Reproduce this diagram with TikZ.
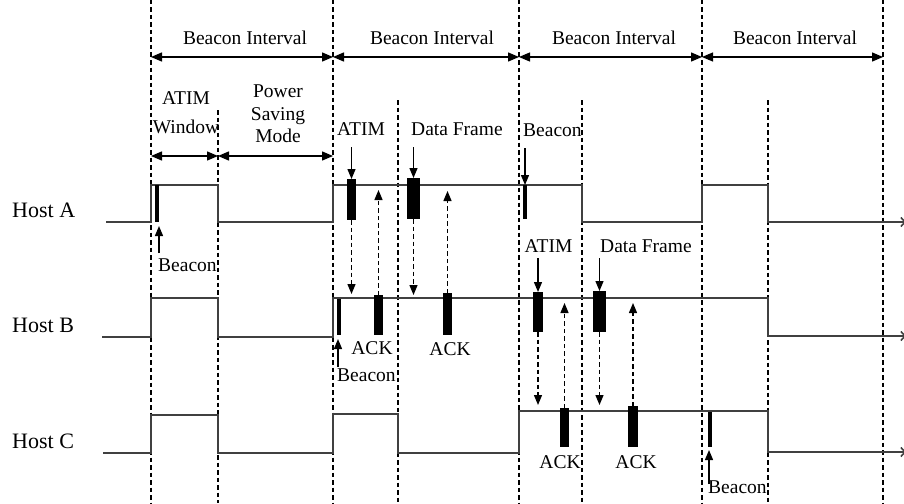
\documentclass[tikz,border=0pt]{standalone}
\usepackage{fontspec}
\setmainfont{Liberation Serif}
\usetikzlibrary{arrows.meta,calc}
\begin{document}
\begin{tikzpicture}[x=1pt,y=-1pt,
  lbl/.style={font=\fontsize{19.5}{23}\selectfont, inner sep=0pt},
  hostlbl/.style={font=\fontsize{22}{24}\selectfont, inner sep=0pt, anchor=base west},
  wave/.style={line width=1.6pt, draw=black!75, line join=miter},
  vgrid/.style={line width=1.1pt, dash pattern=on 4.5pt off 3pt},
  bar/.style={fill=black, inner sep=0pt, outer sep=0pt, draw=none},
  arr/.style={line width=1.3pt, -{Triangle[length=10pt,width=8pt]}},
  darr/.style={arr, dash pattern=on 4.5pt off 3pt},
  dim/.style={line width=1.3pt, {Triangle[length=11pt,width=9pt]}-{Triangle[length=11pt,width=9pt]}},
  endarr/.style={-{Straight Barb[length=4pt,width=9pt]}}
]
\useasboundingbox (0,0) rectangle (904,503);

% time marks (dashed verticals)
\foreach \x/\n in {151/t0,333/t1,519/t2,702/t3,883/t4}{
  \coordinate (\n) at (\x,0);
  \draw[vgrid] (\x,0) -- (\x,503);
}
\foreach \x/\n/\y in {218/w0/110,398/w1/100,582/w2/100,768/w3/100}{
  \coordinate (\n) at (\x,\y);
  \draw[vgrid] (\x,\y) -- (\x,503);
}

% beacon interval dimension arrows
\draw[dim] (151,57) -- (333,57);
\draw[dim] (333,57) -- (519,57);
\draw[dim] (519,57) -- (702,57);
\draw[dim] (702,57) -- (883,57);
\node[lbl,anchor=base] (bi1) at (245,45) {Beacon Interval};
\node[lbl,anchor=base] (bi2) at (432,45) {Beacon Interval};
\node[lbl,anchor=base] (bi3) at (614,45) {Beacon Interval};
\node[lbl,anchor=base] (bi4) at (795,45) {Beacon Interval};

% ATIM window / power saving
\draw[dim] (151,156) -- (218,156);
\draw[dim] (218,156) -- (333,156);
\node[lbl,anchor=base] (aw1) at (186,104) {ATIM};
\node[lbl,anchor=base] (aw2) at (186,133) {Window};
\node[lbl,anchor=base] (ps1) at (278,97) {Power};
\node[lbl,anchor=base] (ps2) at (278,120) {Saving};
\node[lbl,anchor=base] (ps3) at (278,142) {Mode};

% host labels
\node[hostlbl] (hA) at (12,217) {Host A};
\node[hostlbl] (hB) at (12,332) {Host B};
\node[hostlbl] (hC) at (12,448) {Host C};

% waveforms
\draw[wave,endarr] (106,222) -- (151,222) -- (151,185) -- (218,185) -- (218,222) -- (333,222) -- (333,185) -- (582,185) -- (582,222) -- (702,222) -- (702,185) -- (768,185) -- (768,222) -- (906,222);
\draw[wave,endarr] (102,337) -- (151,337) -- (151,298) -- (218,298) -- (218,337) -- (333,337) -- (333,298) -- (768,298) -- (768,336) -- (906,336);
\draw[wave,endarr] (103,453) -- (151,453) -- (151,415) -- (218,415) -- (218,453) -- (333,453) -- (333,414) -- (398,414) -- (398,453) -- (519,453) -- (519,411) -- (768,411) -- (768,452) -- (906,452);

% frames Host A
\node[bar,minimum width=4pt,minimum height=37pt] (bA1) at (157,203.5) {};
\node[bar,minimum width=9pt,minimum height=41pt] (bA2) at (351.5,199.5) {};
\node[bar,minimum width=13pt,minimum height=41pt] (bA3) at (413.5,198.5) {};
\node[bar,minimum width=4pt,minimum height=34pt] (bA4) at (525,202) {};
% frames Host B
\node[bar,minimum width=4pt,minimum height=36pt] (bB1) at (339,317) {};
\node[bar,minimum width=9pt,minimum height=40pt] (bB2) at (378.5,315) {};
\node[bar,minimum width=9pt,minimum height=42pt] (bB3) at (447.5,314) {};
\node[bar,minimum width=10pt,minimum height=40pt] (bB4) at (538,312) {};
\node[bar,minimum width=13pt,minimum height=41pt] (bB5) at (599.5,311.5) {};
% frames Host C
\node[bar,minimum width=9pt,minimum height=39pt] (bC1) at (564.5,427.5) {};
\node[bar,minimum width=10pt,minimum height=41pt] (bC2) at (633,426.5) {};
\node[bar,minimum width=4pt,minimum height=35pt] (bC3) at (710,429.5) {};

% labels with arrows
\node[lbl,anchor=base west] (lbA) at (158,271) {Beacon};
\draw[arr] (159,253) -- (159,226);
\node[lbl,anchor=base] (latim1) at (361,135) {ATIM};
\draw[arr] (bA2.north |- 0,147) -- (bA2.north);
\node[lbl,anchor=base west] (ldf1) at (411,135) {Data Frame};
\draw[arr] (bA3.north |- 0,147) -- (bA3.north);
\node[lbl,anchor=base west] (lbA2) at (523,136) {Beacon};
\draw[arr] (bA4.north |- 0,148) -- (bA4.north);

\node[lbl,anchor=base] (latim2) at (548.5,252) {ATIM};
\draw[arr] (bB4.north |- 0,258) -- (bB4.north);
\node[lbl,anchor=base west] (ldf2) at (600,252) {Data Frame};
\draw[arr] (bB5.north |- 0,258) -- (bB5.north);

\node[lbl,anchor=base] (ack1) at (372,354) {ACK};
\node[lbl,anchor=base] (ack2) at (450,355) {ACK};
\node[lbl,anchor=base west] (lbB) at (337,381) {Beacon};
\draw[arr] (338,367) -- (338,339);

\node[lbl,anchor=base] (ack3) at (560,468) {ACK};
\node[lbl,anchor=base] (ack4) at (636,468) {ACK};
\node[lbl,anchor=base west] (lbC) at (708,493) {Beacon};
\draw[arr] (709,484) -- (709,450);

% dashed message arrows A <-> B
\draw[darr] (bA2.south) -- (bA2.south |- 0,294);
\draw[darr] (bB2.north) -- (bB2.north |- 0,190);
\draw[darr] (bA3.south) -- (bA3.south |- 0,295);
\draw[darr] (bB3.north) -- (bB3.north |- 0,191);
% dashed message arrows B <-> C
\draw[darr] (bB4.south) -- (bB4.south |- 0,405);
\draw[darr] (bC1.north) -- (bC1.north |- 0,303);
\draw[darr] (bB5.south) -- (bB5.south |- 0,405);
\draw[darr] (bC2.north) -- (bC2.north |- 0,303);
\end{tikzpicture}
\end{document}
